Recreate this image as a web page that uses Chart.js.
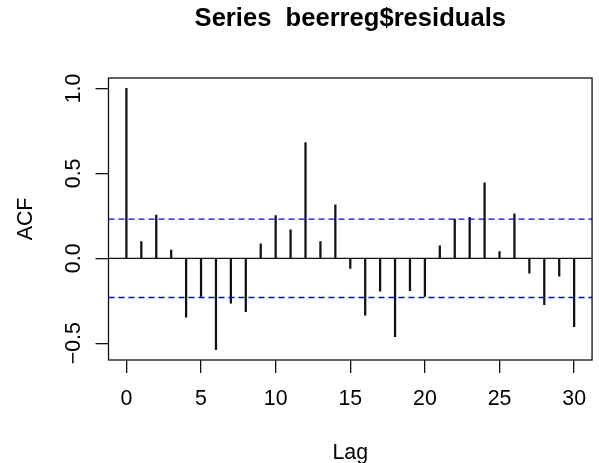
<!DOCTYPE html>
<html>
<head>
<meta charset="utf-8">
<title>ACF of beerreg residuals</title>
<script src="https://cdn.jsdelivr.net/npm/chart.js@4.4.1/dist/chart.umd.min.js"></script>
<style>
  html, body { margin: 0; padding: 0; background: #ffffff; }
  #wrap { width: 599px; height: 463px; }
</style>
</head>
<body>
<div id="wrap"><canvas id="acf" width="599" height="463"></canvas></div>
<script>
// Autocorrelation of the regression residuals, lags 0..30
const lags = [0, 1, 2, 3, 4, 5, 6, 7, 8, 9, 10, 11, 12, 13, 14, 15,
              16, 17, 18, 19, 20, 21, 22, 23, 24, 25, 26, 27, 28, 29, 30];
const acfValues = [1.000, 0.098, 0.254, 0.049, -0.346, -0.224, -0.537, -0.264,
                   -0.314, 0.086, 0.252, 0.168, 0.682, 0.098, 0.315, -0.059,
                   -0.334, -0.193, -0.461, -0.191, -0.224, 0.074, 0.231, 0.242,
                   0.445, 0.039, 0.262, -0.088, -0.273, -0.105, -0.402];
// 95% white-noise bound (±1.96/sqrt(n))
const ciLimit = 0.231;

const xTickValues = [0, 5, 10, 15, 20, 25, 30];
const xTickLabels = ['0', '5', '10', '15', '20', '25', '30'];
const yTickValues = [-0.5, 0.0, 0.5, 1.0];
const yTickLabels = ['\u22120.5', '0.0', '0.5', '1.0'];

const mainTitle = 'Series  beerreg$residuals';
const xAxisTitle = 'Lag';
const yAxisTitle = 'ACF';

// R-style axis limits: data range widened by 4% on each side
function paddedRange(values) {
  const lo = Math.min(...values), hi = Math.max(...values);
  const pad = 0.04 * (hi - lo);
  return [lo - pad, hi + pad];
}
const [xMin, xMax] = paddedRange(lags);
const [yMin, yMax] = paddedRange(acfValues.concat([ciLimit, -ciLimit]));

const FONT = '"Liberation Sans", Arial, Helvetica, sans-serif';
const BASE = 21.33;

const spikes = lags.map((lag, i) => ({ x: lag, y: acfValues[i] }));
const hline = (v) => [{ x: xMin, y: v }, { x: xMax, y: v }];

// Box around the plot region plus the text pieces drawn in base-graphics style
const decorations = {
  id: 'decorations',
  afterDraw(chart) {
    const { ctx, chartArea, scales } = chart;
    const midX = (chartArea.left + chartArea.right) / 2;
    const midY = (chartArea.top + chartArea.bottom) / 2;
    ctx.save();
    ctx.strokeStyle = '#111';
    ctx.lineWidth = 1.3;
    ctx.strokeRect(chartArea.left, chartArea.top,
                   chartArea.right - chartArea.left, chartArea.bottom - chartArea.top);

    ctx.fillStyle = '#000';
    ctx.textAlign = 'center';
    ctx.textBaseline = 'alphabetic';

    ctx.font = 'bold ' + (BASE * 1.2) + 'px ' + FONT;
    ctx.fillText(mainTitle, midX, 26);

    ctx.font = BASE + 'px ' + FONT;
    ctx.fillText(xAxisTitle, midX, 459);

    // rotated y tick labels, read bottom to top
    yTickValues.forEach((v, i) => {
      const py = scales.y.getPixelForValue(v);
      ctx.save();
      ctx.translate(80, py);
      ctx.rotate(-Math.PI / 2);
      ctx.fillText(yTickLabels[i], 0, 0);
      ctx.restore();
    });

    ctx.save();
    ctx.translate(31.7, midY);
    ctx.rotate(-Math.PI / 2);
    ctx.fillText(yAxisTitle, 0, 0);
    ctx.restore();

    ctx.restore();
  }
};

new Chart(document.getElementById('acf'), {
  data: {
    datasets: [
      {
        type: 'line',
        label: 'upper bound',
        data: hline(ciLimit),
        borderColor: '#0000ff',
        borderWidth: 1.4,
        borderDash: [6, 4],
        pointRadius: 0,
        order: 1
      },
      {
        type: 'line',
        label: 'lower bound',
        data: hline(-ciLimit),
        borderColor: '#0000ff',
        borderWidth: 1.4,
        borderDash: [6, 4],
        pointRadius: 0,
        order: 1
      },
      {
        type: 'line',
        label: 'zero',
        data: hline(0),
        borderColor: '#111',
        borderWidth: 1.3,
        pointRadius: 0,
        order: 2
      },
      {
        type: 'bar',
        label: 'ACF',
        data: spikes,
        backgroundColor: '#111',
        borderWidth: 0,
        barThickness: 1.6,
        grouped: false,
        order: 3
      }
    ]
  },
  options: {
    responsive: false,
    animation: false,
    devicePixelRatio: 1,
    layout: { padding: { top: 78, left: 0, right: 0, bottom: 0 } },
    plugins: {
      legend: { display: false },
      title: { display: false },
      tooltip: { enabled: false }
    },
    scales: {
      x: {
        type: 'linear',
        min: xMin,
        max: xMax,
        offset: false,
        border: { display: false },
        grid: {
          offset: false,
          drawOnChartArea: false,
          drawTicks: true,
          tickLength: 13,
          color: '#111',
          lineWidth: 1.3
        },
        ticks: {
          color: '#000',
          font: { family: FONT, size: BASE },
          padding: 13,
          maxRotation: 0,
          minRotation: 0,
          callback: (v) => {
            const i = xTickValues.indexOf(v);
            return i >= 0 ? xTickLabels[i] : '';
          }
        },
        afterBuildTicks: (scale) => { scale.ticks = xTickValues.map(v => ({ value: v })); },
        afterFit: (scale) => { scale.height = 103; }
      },
      y: {
        type: 'linear',
        min: yMin,
        max: yMax,
        border: { display: false },
        grid: {
          offset: false,
          drawOnChartArea: false,
          drawTicks: true,
          tickLength: 13,
          color: '#111',
          lineWidth: 1.3
        },
        ticks: { display: false },
        afterBuildTicks: (scale) => { scale.ticks = yTickValues.map(v => ({ value: v })); },
        afterFit: (scale) => { scale.width = 108.5; }
      }
    }
  },
  plugins: [decorations]
});
</script>
</body>
</html>
